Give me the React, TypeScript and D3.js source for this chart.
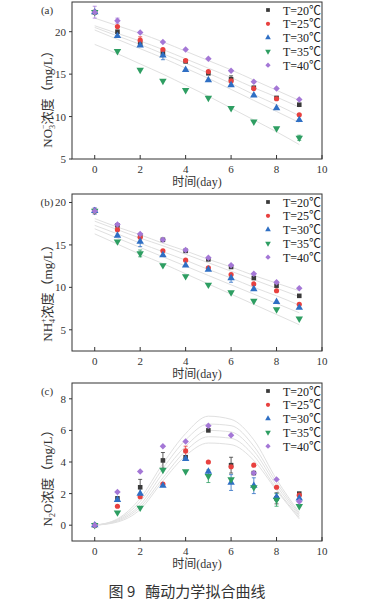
import React, { useEffect, useRef } from 'react';
import * as d3 from 'd3';

const days = [0, 1, 2, 3, 4, 5, 6, 7, 8, 9];
const seriesNames = ['T=20℃', 'T=25℃', 'T=30℃', 'T=35℃', 'T=40℃'];
const colors = ['#3a3a3a', '#e8413f', '#2f6fc4', '#2e9e62', '#a477d6'];

// (a) NO3- concentration
const no3T20 = [22.3, 20.0, 18.6, 17.5, 16.5, 15.1, 14.4, 13.4, 12.2, 11.4];
const no3T25 = [22.3, 20.6, 19.0, 17.9, 16.6, 15.3, 14.2, 13.3, 12.1, 10.2];
const no3T30 = [22.3, 19.5, 18.4, 17.2, 15.5, 14.3, 13.7, 12.5, 11.0, 9.6];
const no3T35 = [22.3, 17.7, 15.5, 14.2, 13.1, 12.2, 11.0, 9.4, 8.6, 7.5];
const no3T40 = [22.3, 21.3, 19.9, 18.8, 17.9, 16.8, 15.4, 14.1, 13.3, 12.0];
const no3FitT20 = [20.7, 19.8, 18.9, 17.9, 16.8, 15.7, 14.6, 13.4, 12.3, 11.1];
const no3FitT25 = [20.5, 19.5, 18.5, 17.4, 16.3, 15.1, 13.9, 12.6, 11.4, 10.1];
const no3FitT30 = [20.2, 19.1, 18.0, 16.9, 15.7, 14.5, 13.2, 11.9, 10.6, 9.3];
const no3FitT35 = [18.5, 17.4, 16.2, 15.0, 13.7, 12.4, 11.0, 9.6, 8.2, 6.7];
const no3FitT40 = [21.6, 20.7, 19.8, 18.8, 17.7, 16.6, 15.5, 14.3, 13.1, 11.9];

// (b) NH4+ concentration
const nh4T20 = [19.0, 17.3, 16.1, 15.6, 14.3, 13.3, 12.4, 11.1, 10.2, 9.0];
const nh4T25 = [19.0, 16.8, 15.9, 14.3, 13.2, 12.3, 11.5, 10.4, 9.6, 8.0];
const nh4T30 = [19.0, 16.1, 15.4, 13.8, 12.6, 12.1, 11.1, 9.8, 8.3, 7.6];
const nh4T35 = [19.0, 15.4, 14.0, 12.6, 11.3, 10.3, 9.4, 8.4, 7.4, 6.3];
const nh4T40 = [19.0, 17.4, 16.3, 15.6, 14.4, 13.5, 12.6, 11.6, 10.6, 9.9];
const nh4FitT20 = [17.8, 16.8, 15.8, 14.9, 13.9, 12.9, 11.9, 10.9, 9.9, 8.9];
const nh4FitT25 = [17.3, 16.3, 15.2, 14.2, 13.2, 12.1, 11.1, 10.0, 9.0, 7.9];
const nh4FitT30 = [16.9, 15.8, 14.7, 13.6, 12.5, 11.4, 10.3, 9.2, 8.1, 7.0];
const nh4FitT35 = [16.3, 15.1, 13.9, 12.8, 11.6, 10.4, 9.2, 8.0, 6.8, 5.6];
const nh4FitT40 = [18.1, 17.1, 16.2, 15.2, 14.3, 13.3, 12.4, 11.4, 10.5, 9.6];

// (c) N2O concentration
const n2oT20 = [0, 1.7, 2.4, 4.1, 4.3, 6.0, 3.8, 3.3, 1.7, 2.0];
const n2oT25 = [0, 1.2, 1.8, 2.6, 4.7, 4.0, 3.7, 3.8, 2.4, 1.9];
const n2oT30 = [0, 1.6, 2.0, 2.5, 4.2, 3.4, 2.7, 2.5, 1.8, 1.7];
const n2oT35 = [0, 0.8, 1.1, 3.5, 3.4, 3.1, 2.9, 2.4, 1.6, 1.2];
const n2oT40 = [0, 2.1, 3.4, 5.0, 5.3, 6.3, 5.7, 3.3, 2.9, 1.5];
const n2oFitT20 = [0, 0.35, 1.5, 3.6, 5.4, 6.4, 6.3, 5.0, 2.7, 0.7];
const n2oFitT25 = [0, 0.3, 1.3, 3.3, 5.0, 6.0, 5.9, 4.7, 2.5, 0.6];
const n2oFitT30 = [0, 0.25, 1.15, 3.0, 4.7, 5.6, 5.5, 4.4, 2.3, 0.5];
const n2oFitT35 = [0, 0.2, 1.0, 2.8, 4.4, 5.2, 5.1, 4.1, 2.2, 0.4];
const n2oFitT40 = [0, 0.4, 1.7, 3.9, 5.8, 6.9, 6.7, 5.4, 2.9, 0.8];

// error bars: [series index, day, half-width]
const no3Err = [[4, 0, 0.7], [4, 1, 0.3], [1, 2, 0.4], [2, 3, 0.5], [0, 6, 0.4], [3, 9, 0.3]];
const nh4Err = [[4, 0, 0.4], [2, 2, 0.6], [3, 2, 0.4], [2, 6, 0.5]];
const n2oErr = [[0, 2, 0.5], [0, 3, 0.5], [1, 4, 0.3], [3, 5, 0.4], [0, 6, 0.5], [2, 6, 0.5], [2, 7, 0.5], [0, 8, 0.35], [3, 8, 0.4]];

const xTicks = [0, 2, 4, 6, 8, 10];

const panels = [
  { tag: '(a)', top: 2, bottom: 159, yDomain: [5, 23.5], yTicks: [5, 10, 15, 20],
    data: [no3T20, no3T25, no3T30, no3T35, no3T40], fits: [no3FitT20, no3FitT25, no3FitT30, no3FitT35, no3FitT40],
    err: no3Err, ion: 'NO', sub: '3', sup: '−', after: '', labelY: 96 },
  { tag: '(b)', top: 194, bottom: 351, yDomain: [2.5, 21], yTicks: [5, 10, 15, 20],
    data: [nh4T20, nh4T25, nh4T30, nh4T35, nh4T40], fits: [nh4FitT20, nh4FitT25, nh4FitT30, nh4FitT35, nh4FitT40],
    err: nh4Err, ion: 'NH', sub: '4', sup: '+', after: '', labelY: 290 },
  { tag: '(c)', top: 383, bottom: 541, yDomain: [-1, 9], yTicks: [0, 2, 4, 6, 8],
    data: [n2oT20, n2oT25, n2oT30, n2oT35, n2oT40], fits: [n2oFitT20, n2oFitT25, n2oFitT30, n2oFitT35, n2oFitT40],
    err: n2oErr, ion: 'N', sub: '2', sup: '', after: 'O', labelY: 475 },
];

// purple marker is a square turned 45°
const symbols = [d3.symbolSquare, d3.symbolCircle, d3.symbolTriangle, d3.symbolTriangle, d3.symbolSquare];
const rotations = ['', '', '', ' rotate(180)', ' rotate(45)'];

export default function App() {
  const svgRef = useRef<SVGSVGElement | null>(null);

  useEffect(() => {
    if (!svgRef.current) return;
    const svg = d3.select(svgRef.current);
    svg.selectAll('*').remove();

    const left = 72, right = 322;
    const serif = 'Liberation Serif, Noto Sans CJK SC, serif';

    panels.forEach(p => {
      const x = d3.scaleLinear().domain([-1, 10]).range([left, right]);
      const y = d3.scaleLinear().domain(p.yDomain).range([p.bottom, p.top]);
      const g = svg.append('g');

      // fit curves
      const line = d3.line<number>()
        .x((d, i) => x(days[i]))
        .y(d => y(d))
        .curve(d3.curveMonotoneX);
      p.fits.forEach(f => {
        g.append('path').attr('d', line(f)).attr('fill', 'none')
          .attr('stroke', '#e0e0e0').attr('stroke-width', 1);
      });

      // error bars
      p.err.forEach(([s, dd, e]) => {
        const v = p.data[s][dd];
        const cx = x(days[dd]);
        g.append('path')
          .attr('d', `M${cx},${y(v - e)}V${y(v + e)}M${cx - 2},${y(v - e)}h4M${cx - 2},${y(v + e)}h4`)
          .attr('stroke', colors[s]).attr('stroke-width', 0.8).attr('fill', 'none');
      });

      // points
      [0, 1, 2, 3, 4].forEach(s => {
        const sym = d3.symbol().type(symbols[s]).size(s === 2 || s === 3 ? 24 : 21);
        g.selectAll(null).data(p.data[s]).enter().append('path')
          .attr('d', sym)
          .attr('transform', (d, i) => `translate(${x(days[i])},${y(d)})${rotations[s]}`)
          .attr('fill', colors[s]);
      });

      // frame
      g.append('rect').attr('x', left).attr('y', p.top).attr('width', right - left).attr('height', p.bottom - p.top)
        .attr('fill', 'none').attr('stroke', '#333').attr('stroke-width', 1);

      // x ticks (inward)
      xTicks.forEach(t => {
        g.append('line').attr('x1', x(t)).attr('x2', x(t)).attr('y1', p.bottom).attr('y2', p.bottom - 4)
          .attr('stroke', '#333');
        g.append('text').attr('x', x(t)).attr('y', p.bottom + 14).attr('text-anchor', 'middle')
          .attr('font-family', serif).attr('font-size', 11).attr('fill', '#333').text(t);
      });
      // y ticks
      p.yTicks.forEach(t => {
        g.append('line').attr('x1', left - 3).attr('x2', left).attr('y1', y(t)).attr('y2', y(t)).attr('stroke', '#333');
        g.append('text').attr('x', left - 6).attr('y', y(t) + 4).attr('text-anchor', 'end')
          .attr('font-family', serif).attr('font-size', 11).attr('fill', '#333').text(t);
      });

      // tag
      g.append('text').attr('x', 47).attr('y', p.top + 12).attr('text-anchor', 'middle')
        .attr('font-family', serif).attr('font-size', 11).attr('fill', '#333').text(p.tag);

      // x title
      g.append('text').attr('x', (left + right) / 2).attr('y', p.bottom + 27).attr('text-anchor', 'middle')
        .attr('font-family', serif).attr('font-size', 12).attr('fill', '#333').text('时间(day)');

      // y title
      const yt = g.append('text').attr('transform', `translate(52,${p.labelY}) rotate(-90)`)
        .attr('text-anchor', 'middle').attr('font-family', serif).attr('font-size', 13).attr('fill', '#333');
      yt.append('tspan').text(p.ion);
      yt.append('tspan').attr('font-size', 8).attr('dy', 3).text(p.sub);
      if (p.sup) yt.append('tspan').attr('font-size', 8).attr('dx', -4).attr('dy', -9).text(p.sup);
      yt.append('tspan').attr('dy', p.sup ? 6 : -3).text(p.after + '浓度（mg/L）');

      // legend
      seriesNames.forEach((name, s) => {
        const ly = p.top + 8 + s * 13.8;
        const sym = d3.symbol().type(symbols[s]).size(14);
        g.append('path').attr('d', sym)
          .attr('transform', `translate(268,${ly})${rotations[s]}`)
          .attr('fill', colors[s]);
        g.append('text').attr('x', 283).attr('y', ly + 4.5)
          .attr('font-family', serif).attr('font-size', 12).attr('fill', '#222').text(name);
      });
    });

    svg.append('text').attr('x', 187).attr('y', 597).attr('text-anchor', 'middle')
      .attr('font-family', 'Noto Sans CJK SC, Liberation Serif').attr('font-size', 15).attr('fill', '#333')
      .attr('xml:space', 'preserve').text('图 9   酶动力学拟合曲线');
  }, []);

  return (
    <svg ref={svgRef} width={373} height={614}
      style={{ position: 'absolute', left: 0, top: 0, background: '#fff' }} />
  );
}
